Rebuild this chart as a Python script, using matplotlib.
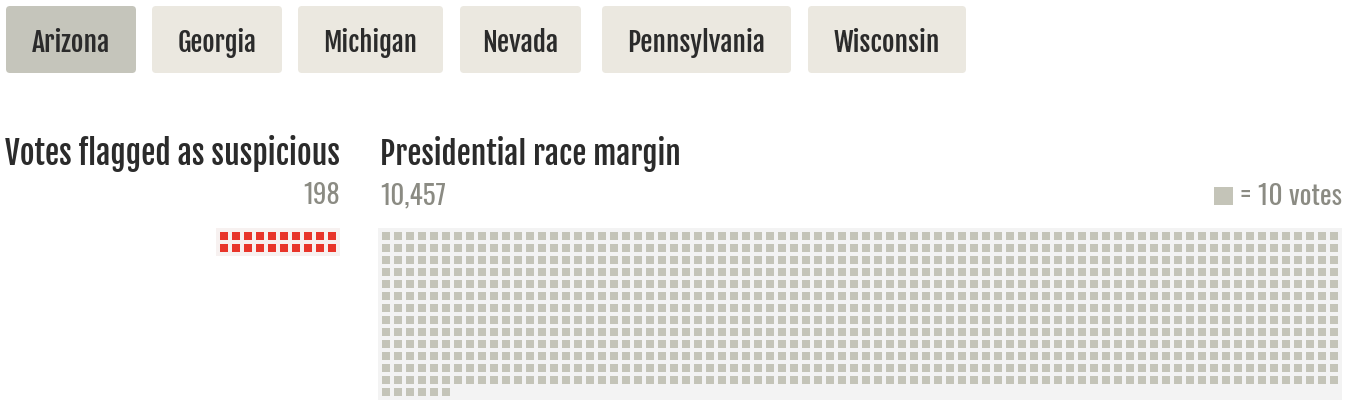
import matplotlib
matplotlib.use('Agg')
import matplotlib.pyplot as plt
from matplotlib.patches import FancyBboxPatch, Rectangle

# tall compressed face for numbers, heavier condensed one for titles and tabs
plt.rcParams['font.family'] = ['Oswald', 'Fira Sans Extra Condensed', 'DejaVu Sans']
heavy = ['Fjalla One', 'Fira Sans Extra Condensed', 'DejaVu Sans']

# data
states = ['Arizona', 'Georgia', 'Michigan', 'Nevada', 'Pennsylvania', 'Wisconsin']
selected = 'Arizona'
flagged_votes = 198
race_margin = 10457
votes_per_square = 10

# tab layout (pixels)
tab_left = [6, 152, 298, 460, 602, 808]
tab_right = [136, 282, 443, 581, 791, 966]

W, H = 1350, 408
fig = plt.figure(figsize=(W / 100, H / 100), dpi=100)
fig.patch.set_facecolor('white')
renderer = fig.canvas.get_renderer()

# full figure axes in pixel units for tabs and labels
ax0 = fig.add_axes([0, 0, 1, 1])
ax0.set_xlim(0, W)
ax0.set_ylim(H, 0)
ax0.axis('off')


def fit(t, width):
    # scale the font so the text spans the width seen in the reference
    w = t.get_window_extent(renderer).width
    t.set_fontsize(t.get_fontsize() * width / w)
    return t


dark = '#2b2b2b'
grey = '#8b8b83'

for name, x0, x1 in zip(states, tab_left, tab_right):
    fc = '#c5c5bb' if name == selected else '#ebe8e0'
    ax0.add_patch(FancyBboxPatch((x0 + 4, 6 + 4), x1 - x0 - 8, 67 - 8,
                                 boxstyle='round,pad=4', fc=fc, ec='none'))
    t = ax0.text((x0 + x1) / 2, 52, name, ha='center', va='baseline',
                 fontsize=20, color=dark, family=heavy)

tab_widths = {'Arizona': 78, 'Georgia': 79, 'Michigan': 94,
              'Nevada': 76, 'Pennsylvania': 138, 'Wisconsin': 106}
for t in ax0.texts:
    fit(t, tab_widths[t.get_text()])

fit(ax0.text(340, 165, 'Votes flagged as suspicious', ha='right', va='baseline',
             fontsize=24, fontweight='bold', family=heavy, color=dark), 334)
fit(ax0.text(380, 165, 'Presidential race margin', ha='left', va='baseline',
             fontsize=24, fontweight='bold', family=heavy, color=dark), 301)
fit(ax0.text(340, 204, f'{flagged_votes}', ha='right', va='baseline',
             fontsize=20, color=grey), 37)
fit(ax0.text(380, 204, f'{race_margin:,}', ha='left', va='baseline',
             fontsize=20, color=grey), 66)
ax0.add_patch(Rectangle((1214, 187), 19, 18, fc='#c4c4b8', ec='none'))
fit(ax0.text(1342, 205, f'= {votes_per_square} votes', ha='right', va='baseline',
             fontsize=20, color=grey), 102)


def waffle(rect, count, ncols, color, bg):
    ax = fig.add_axes([rect[0] / W, 1 - (rect[1] + rect[3]) / H,
                       rect[2] / W, rect[3] / H])
    nrows = -(-count // ncols)
    ax.set_xlim(-1 / 3, ncols)
    ax.set_ylim(nrows, -1 / 3)
    ax.set_facecolor(bg)
    for s in ax.spines.values():
        s.set_visible(False)
    ax.set_xticks([])
    ax.set_yticks([])
    for i in range(count):
        r, c = divmod(i, ncols)
        ax.add_patch(Rectangle((c, r), 8 / 12, 8 / 12, fc=color, ec='none'))
    return ax


flag_sq = round(flagged_votes / votes_per_square)
margin_sq = round(race_margin / votes_per_square)

waffle((216, 228, 124, 28), flag_sq, 10, '#e8352a', '#f7f1f0')
waffle((378, 228, 964, 172), margin_sq, 80, '#c4c4b8', '#f3f3f3')

fig.savefig('out.png', dpi=100)
